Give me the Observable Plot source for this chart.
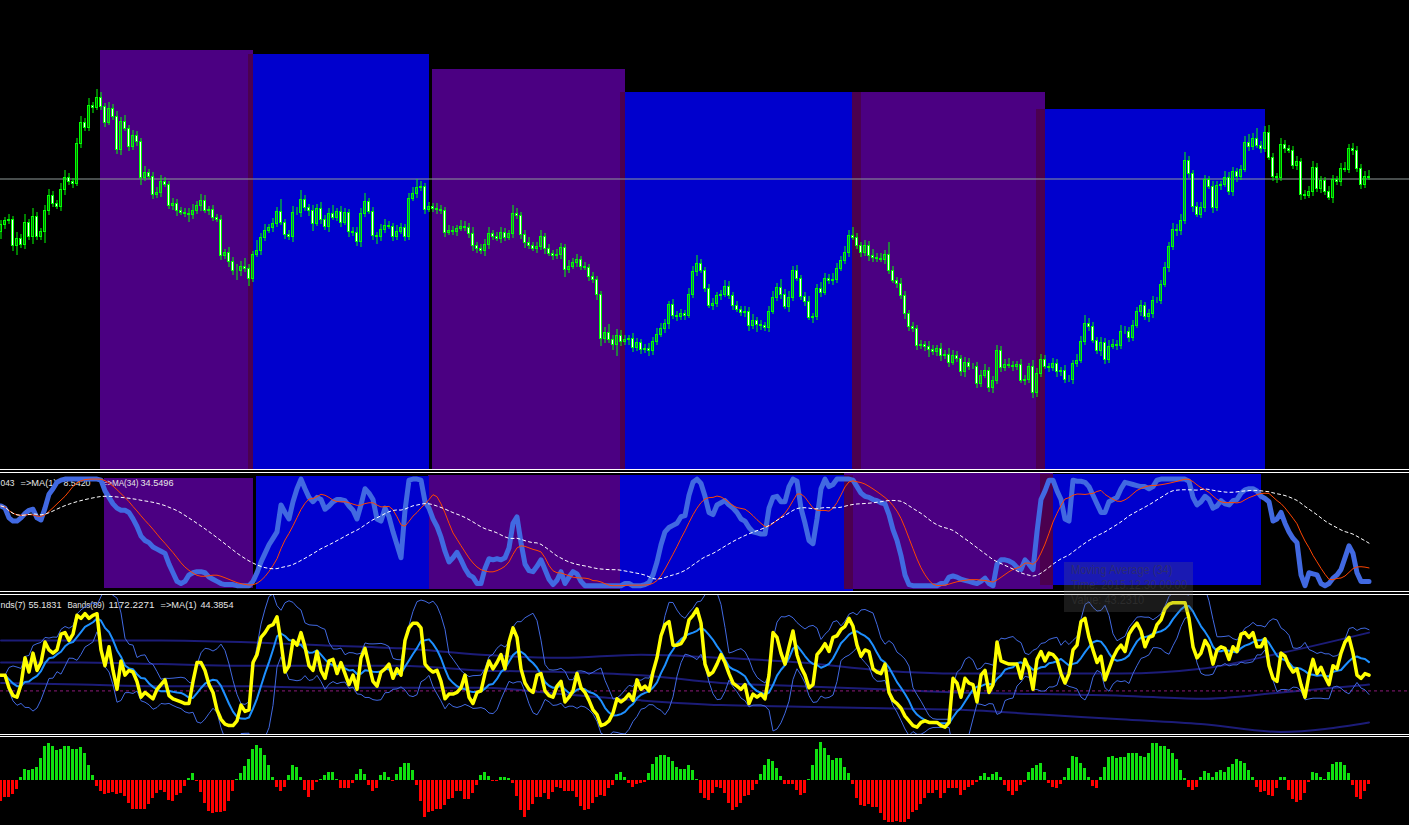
<!DOCTYPE html>
<html><head><meta charset="utf-8">
<script src="https://cdn.jsdelivr.net/npm/d3@7"></script>
<script src="https://cdn.jsdelivr.net/npm/@observablehq/plot@0.6"></script>
<style>
html,body{margin:0;padding:0;background:#000;overflow:hidden;}
#chart{position:relative;width:1409px;height:825px;overflow:hidden;background:#000;}
.sep{position:absolute;left:0;width:1409px;height:1px;background:#fff;}
#tip{position:absolute;left:1064px;top:562px;width:129px;height:50px;background:rgba(104,104,104,0.25);
 font-family:"Liberation Sans",sans-serif;font-size:12.5px;line-height:15px;color:rgba(60,60,60,0.55);
 box-sizing:border-box;padding:1px 0 0 7px;white-space:nowrap;}
#tip div{transform:scaleX(0.88);transform-origin:0 0;}
</style></head><body><div id="chart"></div><script>
// ---------------- DATA ----------------
// price closes (arbitrary price units), one per bar
const closes = [
276,280,281,255,262,256,278,264,284,264,269,290,305,297,294,311,323,319,317,357,378,373,395,393,403,394,378,392,384,351,379,372,354,365,359,323,328,324,306,308,319,316,295,297,290,288,287,286,290,295,300,290,291,283,281,245,248,239,230,
230,234,232,222,246,250,263,270,273,277,289,278,266,264,288,288,301,293,290,277,292,281,274,287,283,289,278,288,269,268,259,287,299,289,265,264,271,275,274,264,269,273,264,302,307,313,314,291,294,292,291,290,268,270,269,272,274,273,267,
255,252,250,256,267,264,262,268,263,267,287,285,266,258,255,252,254,264,252,247,245,246,253,231,234,238,241,234,233,224,221,206,162,168,161,156,165,159,161,162,153,158,151,152,150,159,166,172,177,196,185,184,187,185,206,229,237,230,212,
195,197,205,206,214,205,195,191,188,189,175,180,176,175,173,189,203,213,206,194,203,230,222,204,199,183,184,212,208,222,220,221,232,240,248,265,263,255,248,255,245,243,242,241,246,230,220,217,205,187,174,172,155,156,154,151,149,152,
145,146,138,145,142,129,138,134,134,117,125,130,113,120,150,133,136,135,134,136,120,121,134,108,127,141,134,133,137,129,130,121,121,137,140,159,177,174,160,150,158,141,154,156,155,169,169,163,175,189,195,184,187,200,200,216,233,254,271,
270,280,340,327,294,286,293,321,314,293,315,316,323,309,329,324,331,358,354,362,355,352,368,343,324,323,356,352,350,335,339,306,305,309,333,312,320,309,303,321,319,332,331,352,350,332,316,324,323];
const firstOpen = 269;
// upper / lower wick lengths (price units)
const wickUp = [
4,3,5,3,6,4,8,3,8,4, 3,5,6,4,3,6,7,4,3,5, 6,4,7,3,8,5,3,6,4,5, 4,6,3,5,4,3,6,3,4,5, 6,4,3,5,4,3,4,5,6,4,
6,5,3,4,3,4,3,5,4,6, 5,8,4,3,10,4,6,3,5,4, 12,3,4,6,5,9,4,3,5,4, 6,4,5,8,3,5,4,3,4,5, 5,8,3,4,3,5,6,4,3,6,
4,3,5,6,8,5,3,4,3,5, 4,3,5,4,3,6,5,4,6,3, 4,5,6,3,4,5,4,3,8,5, 3,4,5,3,4,6,3,4,3,5, 4,3,6,4,5,3,4,3,4,3,
3,5,8,4,6,5,4,3,5,4, 3,4,5,4,6,5,4,3,5,4, 4,3,6,5,8,4,3,4,5,3, 4,6,5,3,4,3,5,4,6,3, 4,3,5,6,4,8,5,6,4,5,
3,4,5,3,4,6,5,4,6,5, 4,6,5,8,4,3,5,4,6,4, 5,4,12,4,3,5,4,3,4,3, 4,3,5,4,3,5,4,6,5,4, 3,5,4,3,4,5,6,3,4,5,
4,5,6,4,3,5,4,3,6,5, 5,4,3,5,4,3,5,4,3,6, 5,8,5,4,3,5,4,6,5,4, 6,5,4,5,4,5,3,4,4,3, 4,5,4,6,5,6,8,4,3,4,
5,4,3,5,4,3,6,5,4,3, 4,6,8,5,10,4,6,7,4,3, 6,4,3,4,5,3,4,5,6,4, 4,3,5,4,3,5,6,4,5,4, 4,5,6];
const wickDn = [
8,5,4,6,10,4,5,4,8,4, 4,12,5,4,3,5,6,4,5,3, 5,4,4,6,3,4,5,3,4,5, 6,3,5,4,5,8,4,3,5,4, 5,3,4,5,6,3,4,8,5,4,
6,3,5,4,3,5,4,6,5,10, 6,4,8,4,3,5,4,3,5,4, 3,5,4,6,3,5,4,6,8,3, 5,4,6,3,4,5,3,6,4,5, 6,4,3,5,8,5,4,3,5,4,
3,5,4,3,5,4,5,3,4,5, 4,5,3,4,5,3,4,5,6,5, 4,6,5,4,3,5,4,3,5,4, 5,6,4,3,5,4,6,3,5,4, 5,8,4,3,5,4,3,5,4,6,
8,5,4,6,12,5,4,6,5,4, 5,4,6,5,4,3,5,6,4,5, 4,5,3,4,5,3,4,3,5,4, 5,3,4,5,3,4,5,6,4,8, 5,4,5,3,4,5,3,6,4,3,
4,5,3,6,4,5,3,4,5,4, 3,4,5,3,4,5,4,6,5,4, 3,5,4,3,5,4,6,5,4,5, 4,5,8,4,5,6,4,5,3,4, 5,6,4,3,5,4,3,5,6,4,
5,4,3,5,4,3,5,4,6,5, 4,3,5,4,6,5,4,3,5,4, 3,4,5,3,4,6,5,4,3,5, 4,3,5,4,3,5,4,6,5,3, 4,3,5,4,6,5,4,5,6,3,
4,5,3,6,4,5,3,4,5,6, 4,3,5,4,3,5,4,3,5,6, 4,5,3,4,5,6,4,3,5,4, 5,4,3,6,4,5,3,4,5,4, 5,4,3];
const horizLevel = 321.5;
// rectangle zones on the price window (bar index from/to, top price)
const zoneFrom = [25, 62, 108, 155, 213, 259];
const zoneTo   = [63, 107, 156, 215, 261, 316];
const zoneTop  = [450, 446, 431, 408, 408, 391];
const zoneKind = ["indigo","blue","indigo","blue","indigo","blue"];
// rectangle zones on the oscillator window
const zone2From   = [26, 64, 107, 155, 211, 260];
const zone2To     = [63, 107, 155, 213, 263, 315];
const zone2Top    = [100, 101.7, 102.5, 102.5, 104, 103];
const zone2Bottom = [-2.2, -3.5, -3.5, -6.3, -3.5, 0];
const zone2Kind   = ["indigo","blue","indigo","blue","indigo","blue"];
// oscillator window (thick blue line)
const osc = [
74,72,63,60,60,63,67,70,71,63, 61,72,85,90,96,98,99,99,99,99, 99,99,99,99,99,98,88,82,76,72, 70,70,68,62,55,46,42,40,36,34, 32,30,20,12,4,2,4,10,12,13,
13,12,8,6,4,2,1,1,1,0, 0,0,0,4,12,22,30,38,44,50, 75,68,62,78,90,99,90,82,78,82, 80,71,74,78,80,80,79,74,70,62, 75,90,86,80,62,60,72,64,50,38,
26,70,98,99,99,98,78,72,62,55, 45,32,22,26,31,24,16,10,8,2, 2,16,25,24,25,24,26,35,58,64, 40,20,14,13,18,24,15,6,1,5, 13,2,8,13,11,4,0,0,0,0,
0,0,0,0,0,0,2,2,0,0, 0,1,3,10,22,38,50,54,56,58, 64,65,84,96,99,95,83,68,66,75, 77,79,75,72,68,62,60,54,50,49, 48,48,72,82,83,78,78,92,99,97,
72,58,42,39,62,90,99,92,94,99, 99,99,99,98,92,86,83,82,80,79, 77,76,66,52,42,28,10,1,0,0, 0,0,0,0,0,2,2,8,9,8, 6,5,4,3,2,4,7,2,0,20,
24,24,23,21,17,15,24,20,15,50, 80,88,98,98,88,80,62,60,98,97, 97,96,92,84,76,68,68,78,80,82, 90,96,95,94,93,92,92,90,92,98, 99,99,99,99,99,99,99,97,82,75,
78,83,80,72,74,79,76,75,79,80, 86,89,90,90,88,83,81,78,60,62, 68,58,50,44,40,10,0,12,11,10, 2,0,2,7,10,15,26,37,30,12, 4,4,4];
const oscLabels = ["043", "=>MA(1)", "8.5420", "=>MA(34)", "34.5496"];
// second oscillator (yellow)
const yellow = [
44,44,36,31,30,38,55,46,58,47, 52,65,60,58,60,70,71,66,70,82, 80,83,80,82,83,60,50,62,47,35, 53,44,47,46,40,30,33,31,29,35, 38,41,31,29,28,27,26,26,40,52,
52,47,38,33,22,16,13,12,12,15, 25,21,22,52,57,68,71,75,76,81, 65,46,50,66,63,71,62,50,47,59, 47,42,53,54,45,52,45,38,44,35, 55,61,50,40,37,46,48,51,42,48,
44,66,74,77,77,74,51,48,46,47, 40,29,32,32,33,36,44,30,26,33, 34,45,53,48,52,57,48,65,74,68, 48,39,35,33,44,45,34,31,30,37, 40,27,30,34,45,36,33,28,22,19,
12,13,15,20,29,27,29,32,28,41, 35,37,34,46,55,69,76,78,63,63, 64,68,79,82,86,77,51,44,46,51, 57,52,45,39,37,35,38,26,32,30, 32,29,44,71,68,58,51,62,72,57,
49,44,36,38,57,60,64,59,68,69, 73,75,80,75,63,56,60,59,48,46, 45,51,33,28,26,23,18,15,12,11, 14,15,14,14,14,12,11,14,42,39, 30,42,39,38,27,44,47,33,38,65,
53,52,51,51,51,42,54,48,35,54, 59,53,58,57,54,45,39,45,60,63, 78,80,68,60,52,56,41,48,55,60, 63,59,70,74,77,72,62,68,69,76, 79,86,89,90,90,90,90,80,62,55,
58,66,62,51,60,62,61,54,62,59, 70,71,68,71,62,62,67,50,42,40, 58,56,50,46,48,38,30,44,54,45, 49,43,38,50,48,58,65,68,58,44, 42,45,44];
const yellowLevel = 34;
// Bands(89) lines read at sample bars
const navyBars = [0,20,40,60,80,100,120,140,160,180,200,220,240,260,280,300,320,342];
const navyUpper = [66,66,66,65,63,61,57,55,57,55,52,47,45,45,45,48,58,71];
const navyMiddle = [52,52,51,50,50,50,47,46,44,39,37,35,33,32,31,29,33,38];
const navyLower = [39,38,37,37,36,36,36,32,28,25,24,23,22,19,16,13,8,14];
const bandLabels = ["nds(7)", "55.1831", "Bands(89)", "1172.2271", "=>MA(1)", "44.3854"];
// histogram
const hist = [
-21,-17,-17,-14,-9,3,11,10,11,13, 22,34,37,34,30,31,34,34,31,31, 33,27,15,5,-6,-11,-14,-13,-12,-14, -13,-16,-23,-29,-29,-29,-29,-24,-18,-13, -10,-12,-20,-21,-15,-13,-6,2,7,-1,
-12,-23,-31,-33,-32,-32,-31,-21,-11,1, 7,14,21,31,35,32,25,15,3,-7, -11,-7,5,15,13,3,-10,-17,-10,-2, 1,5,8,8,1,-8,-8,-8,-3,6, 11,6,-5,-11,-8,5,8,3,-1,6,
13,17,17,10,-5,-21,-37,-32,-31,-29, -29,-25,-19,-18,-11,-11,-19,-19,-13,-5, 5,8,4,-1,-1,3,3,2,-3,-16, -30,-37,-30,-24,-17,-17,-13,-19,-12,-7, -8,-11,-11,-11,-17,-26,-30,-29,-23,-17,
-15,-16,-8,-5,6,8,3,-3,-7,-4, -3,-2,7,16,23,25,25,23,19,13, 11,11,15,10,1,-13,-18,-20,-13,-7, -8,-13,-23,-30,-27,-23,-16,-15,-10,-4, 6,15,21,19,12,4,-4,-4,-4,-10,
-15,-13,1,15,31,38,32,25,20,22, 22,13,7,-4,-18,-25,-26,-24,-27,-27, -33,-40,-42,-42,-41,-42,-42,-39,-32,-30, -24,-18,-13,-13,-10,-18,-13,-8,-8,-8, -15,-10,-7,-5,-2,4,7,3,6,8,
3,-5,-11,-15,-11,-5,-2,8,12,15, 17,8,-3,-7,-8,-4,3,12,24,23, 17,12,3,-6,-8,3,13,23,24,22, 23,23,27,27,27,24,23,27,37,37, 34,34,31,27,21,10,2,-7,-10,-7,
3,9,7,3,8,10,8,13,16,21, 19,17,10,3,-7,-12,-11,-15,-16,-8, 3,3,-10,-19,-22,-20,-13,-2,8,7, 3,1,8,16,18,18,15,7,-5,-17, -19,-11,-4];
const tipLines = ["Moving Average (34)", "Time: 2015.12.30 00:00", "Value: 43.2310"];

// ---------------- BUILD ----------------
const COLORS = {indigo: "#4b0082", blue: "#0000cd", both: "#4b004f"};
const N = closes.length;
const bars = d3.range(N);
const candles = bars.map(i => {
  const o = i === 0 ? firstOpen : closes[i - 1], c = closes[i];
  return {i, o, c, h: Math.max(o, c) + wickUp[i], l: Math.min(o, c) - wickDn[i], bear: c < o};
});
function trailing(arr, k, f) { return arr.map((_, i) => f(arr.slice(Math.max(0, i - k + 1), i + 1))); }
const sd = w => { const m = d3.mean(w); return Math.sqrt(d3.mean(w, v => (v - m) ** 2)); };
const oscFast = trailing(osc, 8, d3.mean);
const oscSlow = trailing(osc, 34, d3.mean);
const bMid = trailing(yellow, 7, d3.mean);
const bSd = trailing(yellow, 7, sd);
const bUp = bMid.map((m, i) => m + 2 * bSd[i]);
const bLo = bMid.map((m, i) => m - 2 * bSd[i]);

function zonesOf(from, to, top, bottom, kind) {
  const z = from.map((f, j) => ({x1: f, x2: to[j], y1: bottom[j], y2: top[j], kind: kind[j]}));
  const ov = [];
  for (let j = 0; j < z.length - 1; j++) {
    if (z[j + 1].x1 < z[j].x2) ov.push({x1: z[j + 1].x1, x2: z[j].x2, y1: Math.max(z[j].y1, z[j + 1].y1), y2: Math.min(z[j].y2, z[j + 1].y2), kind: "both"});
  }
  return z.concat(ov);
}
const X = {domain: [-0.125, 352.125], axis: null};
const chart = document.getElementById("chart");
function place(svg, top) { svg.style.position = "absolute"; svg.style.left = "0px"; svg.style.top = top + "px"; chart.appendChild(svg); return svg; }
function zoneMarks(z) {
  return ["indigo", "blue", "both"].map(k => Plot.rect(z.filter(d => d.kind === k), {x1: d => d.x1 - 0.125, x2: d => d.x2 + 0.125, y1: "y1", y2: "y2", fill: COLORS[k], shapeRendering: "crispEdges"}));
}
function labelMarks(parts, xs, dy) {
  return parts.map((t, j) => Plot.text([t], {text: d => d, frameAnchor: "top-left", textAnchor: "start", lineAnchor: "top", dx: xs[j], dy, fill: "#e6e6e6", fontSize: 8.5, fontFamily: "Liberation Sans, Arial, sans-serif"}));
}
function fitLabels(svg, widths) {
  svg.querySelectorAll("text").forEach((t, j) => {
    if (widths[j]) { t.setAttribute("textLength", widths[j]); t.setAttribute("lengthAdjust", "spacingAndGlyphs"); }
  });
}
const base = {width: 1409, margin: 0, style: {background: "transparent", overflow: "hidden"}, x: X};

// main price window
const mainZones = zonesOf(zoneFrom, zoneTo, zoneTop, zoneFrom.map(() => 31), zoneKind);
place(Plot.plot({...base, height: 469, y: {domain: [31, 500], axis: null},
  marks: [
    ...zoneMarks(mainZones),
    Plot.ruleY([horizLevel], {stroke: "#8f9a99", strokeWidth: 1}),
    Plot.ruleX(candles, {x: "i", y1: "l", y2: "h", stroke: "#00ff00", strokeWidth: 1}),
    Plot.rect(candles.filter(d => !d.bear), {x1: d => d.i - 0.25, x2: d => d.i + 0.25, y1: "o", y2: "c", fill: "none", stroke: "#00ff00", strokeWidth: 1, shapeRendering: "crispEdges"}),
    Plot.rect(candles.filter(d => d.bear), {x1: d => d.i - 0.25, x2: d => d.i + 0.25, y1: "o", y2: "c", fill: "#ffffff", stroke: "#00ff00", strokeWidth: 1, shapeRendering: "crispEdges"})
  ]}), 0);

// oscillator window
const z2 = zonesOf(zone2From, zone2To, zone2Top, zone2Bottom, zone2Kind);
const p2 = place(Plot.plot({...base, height: 118, y: {domain: [-5.39, 104.18], axis: null},
  marks: [
    ...zoneMarks(z2),
    ...labelMarks(oscLabels, [0, 20, 63, 102, 140], 6.7),
    Plot.line(bars, {x: d => d, y: d => osc[d], stroke: "#4169e1", strokeWidth: 5}),
    Plot.line(bars, {x: d => d, y: d => oscFast[d], stroke: "#ff4500", strokeWidth: 1}),
    Plot.line(bars, {x: d => d, y: d => oscSlow[d], stroke: "#ffffff", strokeWidth: 1, strokeDasharray: "3,3"})
  ]}), 473);
fitLabels(p2, [14, 36, 27, 36, 33]);

// bands window
const p3 = place(Plot.plot({...base, height: 139, y: {domain: [6.345, 94.54], axis: null},
  marks: [
    ...labelMarks(bandLabels, [0, 28, 67, 108, 160, 200], 6.3),
    Plot.line(navyBars, {x: d => d, y: (d, j) => navyUpper[j], stroke: "#1c1c78", strokeWidth: 2, curve: "monotone-x"}),
    Plot.line(navyBars, {x: d => d, y: (d, j) => navyMiddle[j], stroke: "#1c1c78", strokeWidth: 2, curve: "monotone-x"}),
    Plot.line(navyBars, {x: d => d, y: (d, j) => navyLower[j], stroke: "#1c1c78", strokeWidth: 2, curve: "monotone-x"}),
    Plot.ruleY([yellowLevel], {stroke: "#8b1a7a", strokeDasharray: "3,3"}),
    Plot.line(bars, {x: d => d, y: d => bUp[d], stroke: "#4169e1", strokeWidth: 1}),
    Plot.line(bars, {x: d => d, y: d => bLo[d], stroke: "#4169e1", strokeWidth: 1}),
    Plot.line(bars, {x: d => d, y: d => bMid[d], stroke: "#1e90ff", strokeWidth: 2}),
    Plot.line(bars, {x: d => d, y: d => yellow[d], stroke: "#ffff00", strokeWidth: 3.5})
  ]}), 595);
fitLabels(p3, [25, 33, 37, 46, 36, 33]);

// histogram window
const histData = bars.map(i => ({i, h: hist[i]}));
place(Plot.plot({...base, height: 88, y: {domain: [-45, 43], axis: null},
  marks: [
    Plot.rectY(histData.filter(d => d.h >= 0), {x1: d => d.i - 0.375, x2: d => d.i + 0.375, y1: 0, y2: "h", fill: "#10e010", shapeRendering: "crispEdges"}),
    Plot.rectY(histData.filter(d => d.h < 0), {x1: d => d.i - 0.375, x2: d => d.i + 0.375, y1: 0, y2: "h", fill: "#ff0000", shapeRendering: "crispEdges"})
  ]}), 737);

// window separators
[469, 472, 591, 594, 734, 736].forEach(t => { const s = document.createElement("div"); s.className = "sep"; s.style.top = t + "px"; chart.appendChild(s); });
// tooltip
const tip = document.createElement("div"); tip.id = "tip";
tipLines.forEach(t => { const l = document.createElement("div"); l.textContent = t; tip.appendChild(l); });
chart.appendChild(tip);
</script></body></html>
